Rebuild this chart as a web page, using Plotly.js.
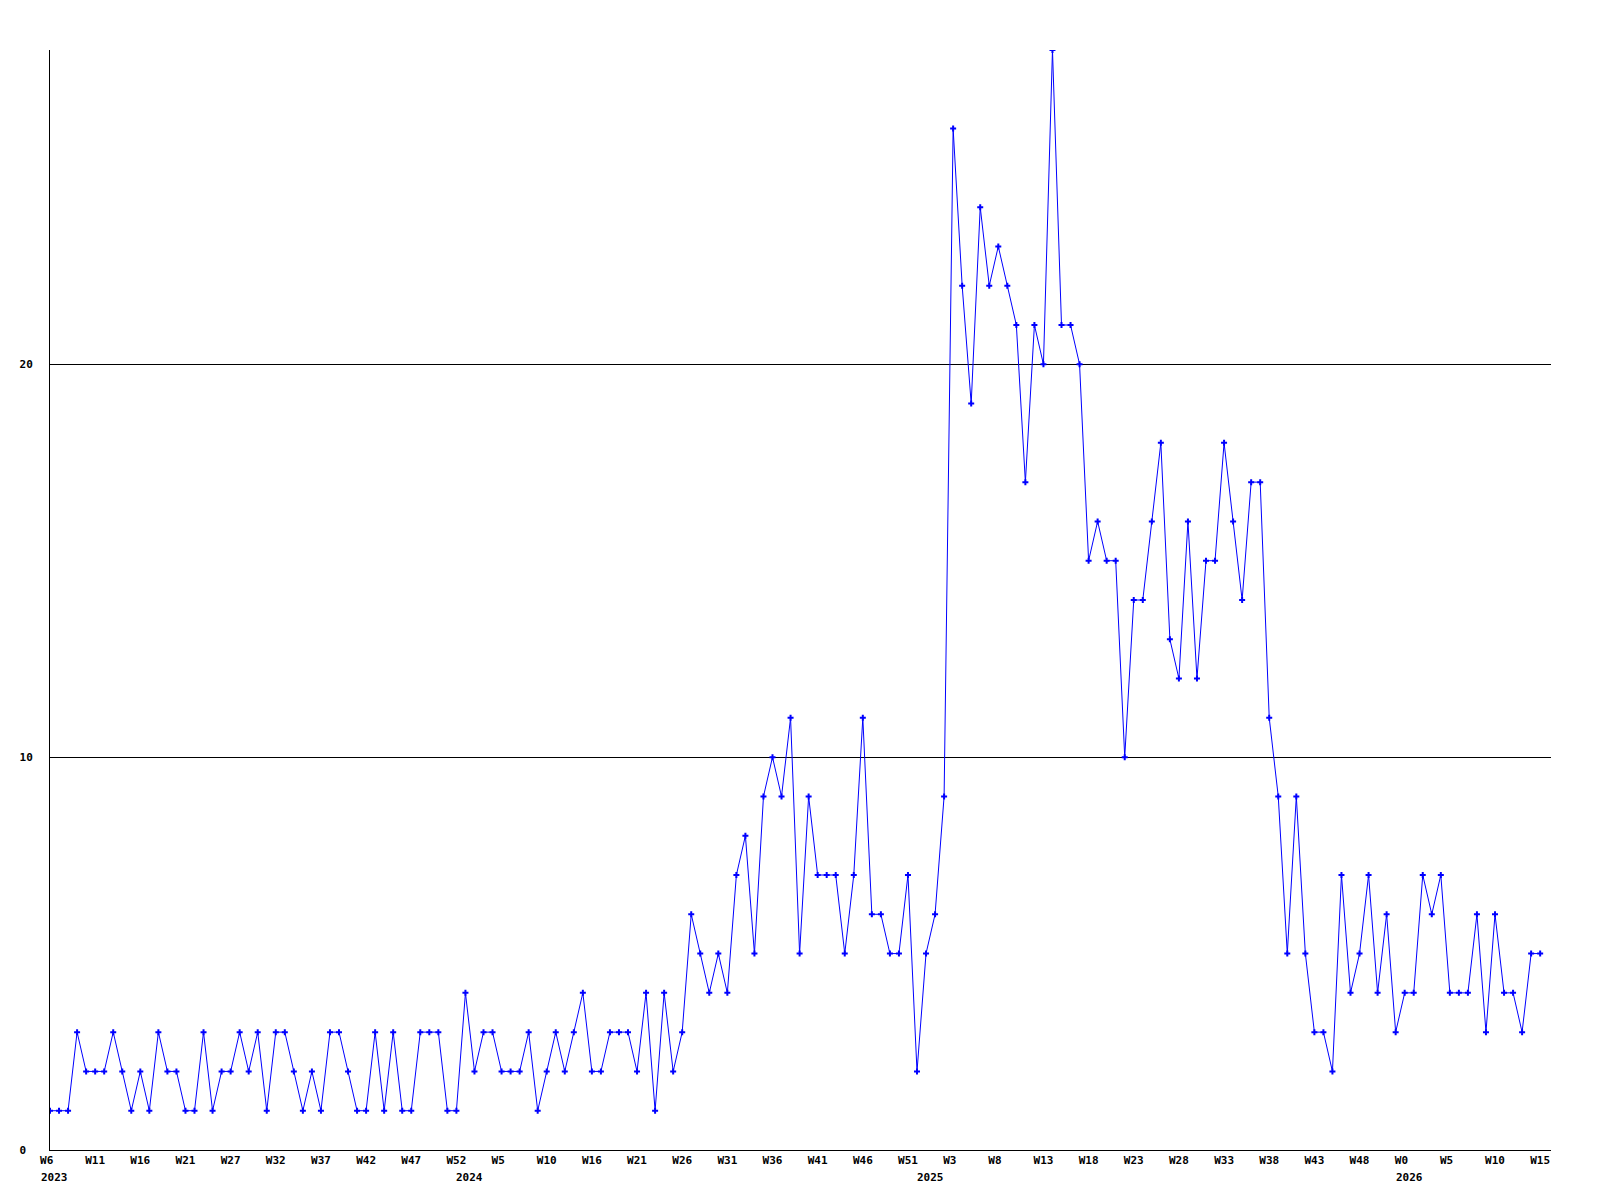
<!DOCTYPE html>
<html>
<head>
<meta charset="utf-8">
<script src="https://cdn.plot.ly/plotly-3.0.1.min.js"></script>
<style>
  html, body { margin: 0; padding: 0; background: #ffffff; }
  #chart { width: 1600px; height: 1200px; }
</style>
</head>
<body>
<div id="chart"></div>
<script>
// Weekly counts, 2023 W6 .. 2026 W15 (one value per week)
const weeklyCounts = [
  1, 1, 1, 3, 2, 2, 2, 3, 2, 1,
  2, 1, 3, 2, 2, 1, 1, 3, 1, 2,
  2, 3, 2, 3, 1, 3, 3, 2, 1, 2,
  1, 3, 3, 2, 1, 1, 3, 1, 3, 1,
  1, 3, 3, 3, 1, 1, 4, 2, 3, 3,
  2, 2, 2, 3, 1, 2, 3, 2, 3, 4,
  2, 2, 3, 3, 3, 2, 4, 1, 4, 2,
  3, 6, 5, 4, 5, 4, 7, 8, 5, 9,
  10, 9, 11, 5, 9, 7, 7, 7, 5, 7,
  11, 6, 6, 5, 5, 7, 2, 5, 6, 9,
  26, 22, 19, 24, 22, 23, 22, 21, 17, 21,
  20, 28, 21, 21, 20, 15, 16, 15, 15, 10,
  14, 14, 16, 18, 13, 12, 16, 12, 15, 15,
  18, 16, 14, 17, 17, 11, 9, 5, 9, 5,
  3, 3, 2, 7, 4, 5, 7, 4, 6, 3,
  4, 4, 7, 6, 7, 4, 4, 4, 6, 3,
  6, 4, 4, 3, 5, 5
];

// Week tick labels, one every 5 weeks
const weekTickLabels = [
  "W6", "W11", "W16", "W21", "W27", "W32", "W37", "W42", "W47", "W52",
  "W5", "W10", "W16", "W21", "W26", "W31", "W36", "W41", "W46", "W51",
  "W3", "W8", "W13", "W18", "W23", "W28", "W33", "W38", "W43", "W48",
  "W0", "W5", "W10", "W15"
];
const weekTickStep = 5;

// Year labels and the week (index) at which each year starts
const yearLabels = ["2023", "2024", "2025", "2026"];
const yearStartWeek = [0, 46, 97, 150];

// Y axis ticks
const yTickValues = [0, 10, 20];
const yTickLabels = ["0", "10", "20"];

const xs = weeklyCounts.map((_, i) => i);
const tickVals = weekTickLabels.map((_, i) => i * weekTickStep);
// pad to 3 monospace chars so labels start at the same offset
const tickText = weekTickLabels.map(t => t.padEnd(3, "\u00a0"));
const yText = yTickLabels.map(t => t.padEnd(2, "\u00a0"));

const FONT = { family: "DejaVu Sans Mono", size: 11, color: "#000000", weight: "bold" };

const trace = {
  type: "scatter",
  mode: "lines+markers",
  x: xs,
  y: weeklyCounts,
  line: { color: "#0000ff", width: 1 },
  marker: { symbol: "cross", size: 5, color: "#0000ff", line: { width: 0 } },
  hoverinfo: "skip",
  cliponaxis: true
};

const annotations = yearLabels.map((t, i) => ({
  text: t,
  x: yearStartWeek[i],
  xref: "x",
  xanchor: "left",
  xshift: -10,
  y: 0,
  yref: "paper",
  yanchor: "middle",
  yshift: -27,
  showarrow: false,
  font: FONT,
  borderpad: 0
}));

const layout = {
  width: 1600,
  height: 1200,
  margin: { l: 50, r: 49, t: 50, b: 50, pad: 0 },
  paper_bgcolor: "#ffffff",
  plot_bgcolor: "#ffffff",
  showlegend: false,
  xaxis: {
    range: [0, 166.2],
    tickmode: "array",
    tickvals: tickVals,
    ticktext: tickText,
    tickangle: 0,
    showgrid: false,
    zeroline: false,
    showline: true,
    linecolor: "#000000",
    linewidth: 1,
    ticks: "",
    tickfont: FONT,
    fixedrange: true
  },
  yaxis: {
    range: [0, 28],
    tickmode: "array",
    tickvals: yTickValues,
    ticktext: yText,
    showgrid: true,
    gridcolor: "#000000",
    gridwidth: 1,
    zeroline: false,
    showline: true,
    linecolor: "#000000",
    linewidth: 1,
    ticks: "",
    ticklabelstandoff: 14,
    tickfont: FONT,
    fixedrange: true
  },
  annotations: annotations
};

Plotly.newPlot("chart", [trace], layout, { staticPlot: true, displayModeBar: false });
</script>
</body>
</html>
